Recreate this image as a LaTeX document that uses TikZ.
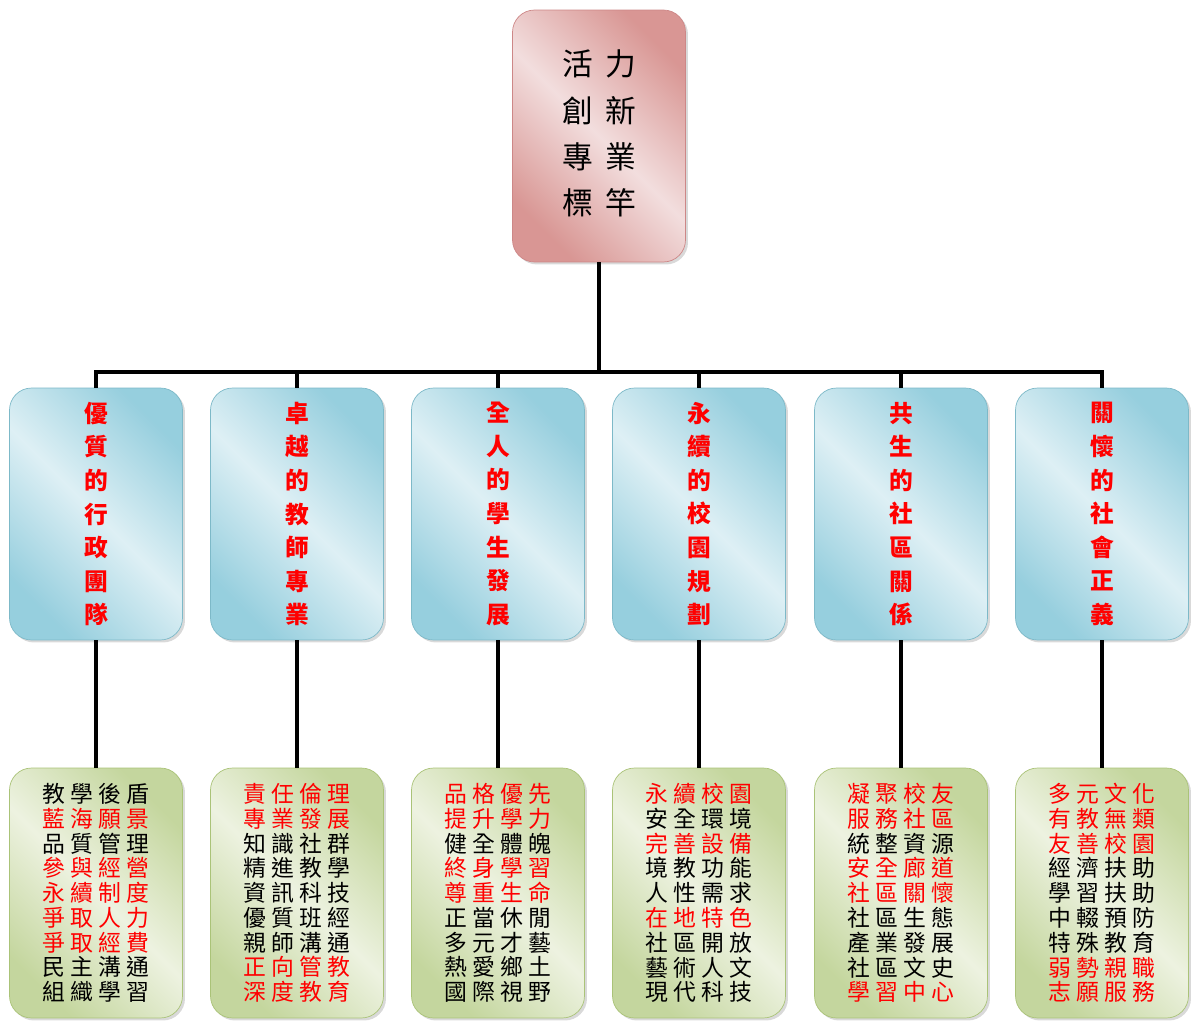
\documentclass[tikz,border=0pt]{standalone}
\usepackage{fontspec}
\newfontfamily\cjk{Noto Sans CJK TC}
\newfontfamily\cjkwide[LetterSpace=22]{Noto Sans CJK TC}
\newfontfamily\cjktitle[LetterSpace=40]{Noto Sans CJK TC}
\usetikzlibrary{positioning,shadows}
\pgfdeclarehorizontalshading{pink band}{100bp}{rgb(0bp)=(0.85,0.59,0.58); rgb(25bp)=(0.85,0.59,0.58); rgb(50bp)=(0.95,0.87,0.87); rgb(75bp)=(0.85,0.59,0.58); rgb(100bp)=(0.85,0.59,0.58)}
\pgfdeclarehorizontalshading{blue band}{100bp}{rgb(0bp)=(0.59,0.81,0.87); rgb(25bp)=(0.59,0.81,0.87); rgb(50bp)=(0.87,0.94,0.96); rgb(75bp)=(0.59,0.81,0.87); rgb(100bp)=(0.59,0.81,0.87)}
\pgfdeclarehorizontalshading{green band}{100bp}{rgb(0bp)=(0.77,0.84,0.62); rgb(25bp)=(0.77,0.84,0.62); rgb(50bp)=(0.93,0.95,0.88); rgb(75bp)=(0.77,0.84,0.62); rgb(100bp)=(0.77,0.84,0.62)}
\definecolor{pink edge}{RGB}{205,135,135}
\definecolor{blue edge}{RGB}{125,185,200}
\definecolor{green edge}{RGB}{170,195,120}
\newcommand{\rd}[1]{\textcolor{red}{#1}}
\tikzset{
    box base/.style={rounded corners=0.44cm,minimum width=3.46cm,minimum height=5.04cm,
        inner sep=0pt,align=center,thin,shading angle=45,
        drop shadow={opacity=.3,shadow xshift=.05cm,shadow yshift=-.05cm}},
    title box/.style={box base,shading=pink band,draw=pink edge,
        font=\cjktitle\fontsize{17.5}{26.4}\selectfont},
    goal box/.style={box base,shading=blue band,draw=blue edge,text=red,
        font=\cjk\bfseries\fontsize{13.5}{19.1}\selectfont},
    item box/.style={box base,minimum height=5cm,shading=green band,draw=green edge,
        font=\cjkwide\fontsize{13}{14.1}\selectfont},
    conn/.style={line width=2.2pt},
}

\begin{document}
\begin{tikzpicture}[x=0.02cm,y=-0.02cm]
    \useasboundingbox (0,0) rectangle (1193,1021);
    \node[title box] (top) at (599,136) {\raisebox{4\dimexpr0.02cm\relax}{\begin{tabular}{@{}c@{}}活力\\創新\\專業\\標竿\end{tabular}}};
    \coordinate (bar) at (599,372);

    % goals
    \node[goal box] (g1) at (96,514) {優\\質\\的\\行\\政\\團\\隊};
    \node[goal box] (g2) at (297,514) {卓\\越\\的\\教\\師\\專\\業};
    \node[goal box] (g3) at (498,514) {全\\人\\的\\學\\生\\發\\展};
    \node[goal box] (g4) at (699,514) {永\\續\\的\\校\\園\\規\\劃};
    \node[goal box] (g5) at (901,514) {共\\生\\的\\社\\區\\關\\係};
    \node[goal box] (g6) at (1102,514) {關\\懷\\的\\社\\會\\正\\義};

    % items
    \node[item box] (i1) at (96,893) {教學後盾\\\rd{藍海願景}\\品質管理\\\rd{參與經營}\\\rd{永續制度}\\\rd{爭取人力}\\\rd{爭取經費}\\民主溝通\\組織學習};
    \node[item box] (i2) at (297,893) {\rd{責任倫理}\\\rd{專業發展}\\知識社群\\精進教學\\資訊科技\\優質班經\\親師溝通\\\rd{正向管教}\\\rd{深度教育}};
    \node[item box] (i3) at (498,893) {\rd{品格優先}\\\rd{提升學力}\\健全體魄\\\rd{終身學習}\\\rd{尊重生命}\\正當休閒\\多元才藝\\熱愛鄉土\\國際視野};
    \node[item box] (i4) at (699,893) {\rd{永續校園}\\安全環境\\\rd{完善設備}\\境教功能\\人性需求\\\rd{在地特色}\\社區開放\\藝術人文\\現代科技};
    \node[item box] (i5) at (901,893) {\rd{凝聚校友}\\\rd{服務社區}\\統整資源\\\rd{安全廊道}\\\rd{社區關懷}\\社區生態\\產業發展\\社區文史\\\rd{學習中心}};
    \node[item box] (i6) at (1102,893) {\rd{多元文化}\\\rd{有教無類}\\\rd{友善校園}\\經濟扶助\\學習扶助\\中輟預防\\特殊教育\\\rd{弱勢親職}\\\rd{志願服務}};

    \draw[conn] (top) -- (bar);
    \draw[conn] (g1) |- (bar) -| (g6);
    \draw[conn] (g2) -- (g2 |- bar);
    \draw[conn] (g3) -- (g3 |- bar);
    \draw[conn] (g4) -- (g4 |- bar);
    \draw[conn] (g5) -- (g5 |- bar);
    \draw[conn] (g1) -- (i1);
    \draw[conn] (g2) -- (i2);
    \draw[conn] (g3) -- (i3);
    \draw[conn] (g4) -- (i4);
    \draw[conn] (g5) -- (i5);
    \draw[conn] (g6) -- (i6);
\end{tikzpicture}
\end{document}
